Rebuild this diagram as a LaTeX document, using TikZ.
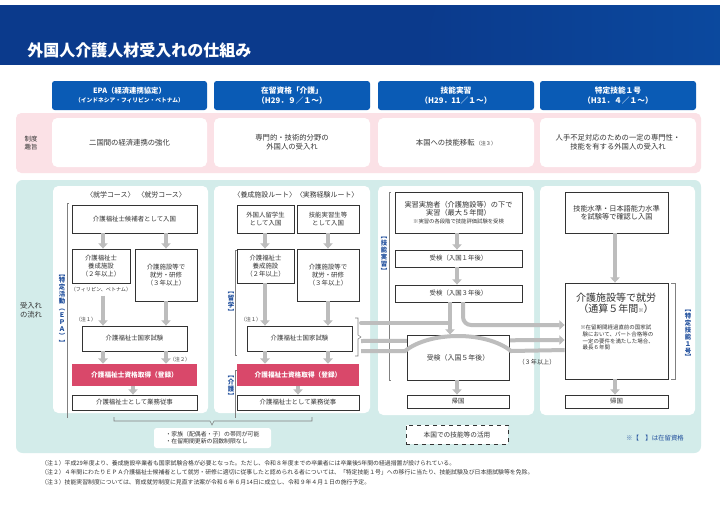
\documentclass[tikz,border=0pt]{standalone}
\usepackage{fontspec}
\setmainfont{Noto Sans CJK JP}
\usetikzlibrary{fit,arrows.meta}
\definecolor{titleblue}{HTML}{0B3A8C}
\definecolor{headblue}{HTML}{0A5BB5}
\definecolor{pinkband}{HTML}{FBE1E6}
\definecolor{teal}{HTML}{D3ECEA}
\definecolor{pinkbox}{HTML}{D9486A}
\definecolor{agray}{HTML}{BDBDBD}
\definecolor{lblue}{HTML}{1F4E9C}
\definecolor{tgray}{HTML}{333333}
\newcommand\bx[7][]{\node[box,#1,fit={(#3,#4)(#5,#6)}] (#2) {};\node[txt,align=center] at (#2) {#7};}
\begin{document}
\begin{tikzpicture}[x=0.75pt,y=-0.75pt,
 box/.style={draw=tgray,line width=0.6pt,fill=white,inner sep=0pt},
 pbox/.style={draw=none,fill=pinkbox},
 txt/.style={font=\fontsize{4.8}{6}\selectfont,text=tgray,inner sep=0pt},
 garrow/.style={draw=agray,line width=3pt,-{Triangle[length=4pt,width=7pt]}},
 gline/.style={draw=agray,line width=3pt},
 brk/.style={draw=gray,line width=0.4pt},
 head/.style={fill=headblue,rounded corners=2pt,draw=none},
 white box/.style={fill=white,rounded corners=4pt,draw=none},
 vlab/.style={font=\fontsize{4.8}{5.2}\selectfont\bfseries,text=lblue,align=center,inner sep=0pt}]
\useasboundingbox (0,0) rectangle (720,511);
\fill[white] (0,0) rectangle (720,511);
% title
\fill[titleblue] (0,5) rectangle (720,65);
\shade[left color=titleblue,right color=titleblue!55!headblue] (436,5) -- (720,5) -- (720,65) -- (420,65) -- cycle;
\node[anchor=west,text=white,font=\fontsize{12}{14}\selectfont\bfseries,inner sep=0] (title) at (27,50) {外国人介護人材受入れの仕組み};
% headers
\node[head,fit={(52,81)(207,110)},inner sep=0] (h1) {};
\node[align=center,text=white,inner sep=0,font=\fontsize{5.5}{6.8}\selectfont\bfseries] at (h1) {EPA（経済連携協定）\\{\fontsize{4.3}{5.5}\selectfont（インドネシア・フィリピン・ベトナム）}};
\node[head,fit={(214,81)(370,110)},inner sep=0] (h2) {};
\node[align=center,text=white,inner sep=0,font=\fontsize{5.8}{7.2}\selectfont\bfseries] at (h2) {在留資格「介護」\\（H29．９／１～）};
\node[head,fit={(378,81)(534,110)},inner sep=0] (h3) {};
\node[align=center,text=white,inner sep=0,font=\fontsize{5.8}{7.2}\selectfont\bfseries] at (h3) {技能実習\\（H29．11／１～）};
\node[head,fit={(540,81)(696,110)},inner sep=0] (h4) {};
\node[align=center,text=white,inner sep=0,font=\fontsize{5.8}{7.2}\selectfont\bfseries] at (h4) {特定技能１号\\（H31．４／１～）};
% pink band
\fill[pinkband,rounded corners=4pt] (16,113) rectangle (701,173);
\node[txt,align=center] (seido) at (31,143) {制度\\趣旨};
\foreach \a/\b/\n in {52/207/p1,214/370/p2,378/534/p3,540/696/p4}
  \node[white box,fit={(\a,118)(\b,167)},inner sep=0] (\n) {};
\node[txt,font=\fontsize{5.5}{7}\selectfont] at (p1) {二国間の経済連携の強化};
\node[txt,align=center,font=\fontsize{5.5}{7}\selectfont] at (p2) {専門的・技術的分野の\\外国人の受入れ};
\node[txt,font=\fontsize{5.5}{7}\selectfont] at (p3) {本国への技能移転\,{\fontsize{3.8}{4}\selectfont（注３）}};
\node[txt,align=center,font=\fontsize{5.5}{7}\selectfont] at (p4) {人手不足対応のための一定の専門性・\\技能を有する外国人の受入れ};
% teal
\fill[teal,rounded corners=5pt] (16,180) rectangle (701,453);
\node[txt,align=center,font=\fontsize{5.5}{7}\selectfont] (ukeire) at (31,310) {受入れ\\の流れ};
\node[white box,fit={(53,186)(208,413)},inner sep=0] (w1) {};
\node[white box,fit={(214,186)(370,413)},inner sep=0] (w2) {};
\node[white box,fit={(378,186)(534,415)},inner sep=0] (w3) {};
\node[white box,fit={(540,186)(695,415)},inner sep=0] (w4) {};
% column 1
\node[txt,font=\fontsize{5.2}{6}\selectfont] (k1) at (136,195) {〈就学コース〉\ \ 〈就労コース〉};
\bx{c1a}{72}{205}{197}{233}{介護福祉士候補者として入国}
\bx{c1b}{72}{249}{130}{283}{介護福祉士\\養成施設\\（２年以上）}
\bx{c1c}{135}{249}{197}{301}{介護施設等で\\就労・研修\\（３年以上）}
\node[txt,font=\fontsize{3.8}{4.5}\selectfont] (fv) at (101,290) {（フィリピン、ベトナム）};
\bx{c1d}{82}{326}{187}{351}{介護福祉士国家試験}
\node[pbox,fit={(72,364)(197,386)},inner sep=0] (c1e) {};
\node[txt,text=white,font=\fontsize{5}{6}\selectfont\bfseries] at (c1e) {介護福祉士資格取得（登録）};
\bx{c1f}{72}{395}{197}{410}{介護福祉士として業務従事}
\node[txt,font=\fontsize{3.8}{4.5}\selectfont] (n11) at (86,320) {（注１）};
\node[txt,font=\fontsize{3.8}{4.5}\selectfont] (n12) at (180,360) {（注２）};
\coordinate (x103) at (103,0); \coordinate (x166) at (166,0); \coordinate (x133) at (133,0);
\draw[garrow] (c1a.south-|x103) -- (c1b.north-|x103);
\draw[garrow] (c1a.south-|x166) -- (c1c.north-|x166);
\draw[garrow] (fv.south-|x103) ++(0,3) -- (c1d.north-|x103);
\draw[garrow] (c1c.south-|x166) -- (c1d.north-|x166);
\draw[garrow] (c1d.south-|x103) -- (c1e.north-|x103);
\draw[garrow] (c1d.south-|x166) -- (c1e.north-|x166);
\draw[garrow] (c1e.south-|x133) -- (c1f.north-|x133);
\draw[brk] (69,203) -- (67,203) -- (67,418);
\node[vlab,fill=white] (epa) at (62,310) {︻\\特\\定\\活\\動\\︵\\Ｅ\\Ｐ\\Ａ\\︶\\︼};
% column 2
\node[txt,font=\fontsize{5.2}{6}\selectfont] (k2) at (296,195) {〈養成施設ルート〉〈実務経験ルート〉};
\bx{c2a}{237}{205}{294}{233}{外国人留学生\\として入国}
\bx{c2b}{297}{205}{359}{233}{技能実習生等\\として入国}
\bx{c2c}{237}{249}{294}{283}{介護福祉士\\養成施設\\（２年以上）}
\bx{c2d}{297}{249}{359}{301}{介護施設等で\\就労・研修\\（３年以上）}
\bx{c2e}{247}{326}{352}{351}{介護福祉士国家試験}
\node[pbox,fit={(237,364)(359,386)},inner sep=0] (c2f) {};
\node[txt,text=white,font=\fontsize{5}{6}\selectfont\bfseries] at (c2f) {介護福祉士資格取得（登録）};
\bx{c2g}{237}{395}{359}{410}{介護福祉士として業務従事}
\node[txt,font=\fontsize{3.8}{4.5}\selectfont] (n21) at (251,320) {（注１）};
\coordinate (x265) at (265,0); \coordinate (x328) at (328,0); \coordinate (x298) at (298,0);
\draw[garrow] (c2a.south-|x265) -- (c2c.north-|x265);
\draw[garrow] (c2b.south-|x328) -- (c2d.north-|x328);
\draw[garrow] (c2c.south-|x265) -- (c2e.north-|x265);
\draw[garrow] (c2d.south-|x328) -- (c2e.north-|x328);
\draw[garrow] (c2e.south-|x265) -- (c2f.north-|x265);
\draw[garrow] (c2e.south-|x328) -- (c2f.north-|x328);
\draw[garrow] (c2f.south-|x298) -- (c2g.north-|x298);
\draw[brk] (237,250) -- (235,250) -- (235,355) -- (237,355);
\draw[brk] (237,370) -- (235,370) -- (235,418);
\node[vlab,fill=white] (ryu) at (231,303) {︻\\留\\学\\︼};
\node[vlab,fill=white] (kai) at (231,387) {︻\\介\\護\\︼};
\draw[brk] (355,318) -- (358,318) -- (358,335) -- (361,337) -- (358,339) -- (358,356) -- (355,356);
% column 3
\bx{c3a}{395}{192}{522}{233}{\fontsize{5.4}{6.5}\selectfont 実習実施者（介護施設等）の下で\\\fontsize{5.4}{6.5}\selectfont 実習（最大５年間）\\\fontsize{4}{5}\selectfont ※実習の各段階で技能評価試験を受検}
\bx{c3b}{395}{250}{522}{267}{受検（入国１年後）}
\bx{c3c}{395}{285}{522}{302}{受検（入国３年後）}
\bx{c3e}{407}{395}{509}{408}{帰国}
\coordinate (x457) at (457,0); \coordinate (x450) at (450,0);
\draw[garrow] (c3a.south-|x457) -- (c3b.north-|x457);
\draw[garrow] (c3b.south-|x457) -- (c3c.north-|x457);
% column 4
\bx{c4a}{565}{192}{668}{233}{\fontsize{5.4}{6.5}\selectfont 技能水準・日本語能力水準\\\fontsize{5.4}{6.5}\selectfont を試験等で確認し入国}
\node[box,fit={(565,283)(668,379)}] (c4b) {};
\node[txt,align=center,anchor=north] (c4bt) at (616,293) {\fontsize{7.5}{9.5}\selectfont 介護施設等で就労\\\fontsize{7.5}{9.5}\selectfont （通算５年間{\fontsize{4}{5}\selectfont ※}）};
\node[txt,align=left,anchor=north,font=\fontsize{4.1}{5}\selectfont] (c4bn) at (617,325) {※在留期間経過直前の国家試\\\ \ 験において、パート合格等の\\\ \ 一定の要件を満たした場合、\\\ \ 最長６年間};
\bx{c4c}{565}{395}{668}{408}{帰国}
\coordinate (x615) at (615,0);
\draw[garrow] (c4a.south-|x615) -- (c4b.north-|x615);
\draw[garrow] (c4b.south-|x615) -- (c4c.north-|x615);
\draw[brk] (391,192) -- (389,192) -- (389,380) -- (391,380);
\node[vlab,fill=white] (gj) at (384,255) {︻\\技\\能\\実\\習\\︼};
\draw[brk] (671,283) -- (675,283) -- (675,379) -- (671,379);
\node[vlab] (tk) at (688,335) {︻\\特\\定\\技\\能\\１\\号\\︼};
% cross arrows
\coordinate (y340) at (0,340); \coordinate (y350) at (0,350);
\draw[garrow] (361,341) -- (c4b.west|-y340);
\node[box,fit={(407,335)(509,380)}] (c3d) {};
\node[txt,font=\fontsize{5.2}{6}\selectfont] at (458,358) {受検（入国５年後）};
\draw[gline,line cap=round] (361,323) -- (450,323);
\draw[garrow] (c3c.south-|x450) -- (c3d.north-|x450);
\draw[garrow,rounded corners=6pt] (463,302) -- (463,325) -- (c4b.west|-{(0,325)});
\draw[gline,line cap=butt] (361,351) -- (405,351) .. controls (430,331) and (486,331) .. (511,351) -- (c4b.west|-y350);
\draw[garrow] (c3d.south-|x457) -- (c3e.north-|x457);
\node[txt,font=\fontsize{4.6}{5.5}\selectfont] (san) at (537,362) {（３年以上）};
% bottom
\draw[brk] (114,417) -- (114,421) -- (210,421) -- (212,425) -- (214,421) -- (312,421) -- (312,417);
\node[fill=white,rounded corners=2pt,fit={(154,428)(271,448)},inner sep=0] (call) {};
\node[txt,align=left,font=\fontsize{4.4}{5.5}\selectfont] at (call) {・家族（配偶者・子）の帯同が可能\\・在留期間更新の回数制限なし};
\node[draw=tgray,dashed,fill=white,line width=0.6pt,fit={(406,425)(508,444)},inner sep=0] (hon) {};
\node[txt,font=\fontsize{5}{6}\selectfont] at (hon) {本国での技能等の活用};
\node[txt,text=lblue,font=\fontsize{4.8}{6}\selectfont] (zai) at (655,438) {※【\quad】は在留資格};
\node[txt,anchor=west,font=\fontsize{4.4}{5.5}\selectfont] (nt1) at (41,463) {（注１）平成29年度より、養成施設卒業者も国家試験合格が必要となった。ただし、令和８年度までの卒業者には卒業後5年間の経過措置が設けられている。};
\node[txt,anchor=west,font=\fontsize{4.4}{5.5}\selectfont] (nt2) at (41,472) {（注２）４年間にわたりＥＰＡ介護福祉士候補者として就労・研修に適切に従事したと認められる者については、「特定技能１号」への移行に当たり、技能試験及び日本語試験等を免除。};
\node[txt,anchor=west,font=\fontsize{4.4}{5.5}\selectfont] (nt3) at (41,482) {（注３）技能実習制度については、育成就労制度に見直す法案が令和６年６月14日に成立し、令和９年４月１日の施行予定。};
\end{tikzpicture}
\end{document}
